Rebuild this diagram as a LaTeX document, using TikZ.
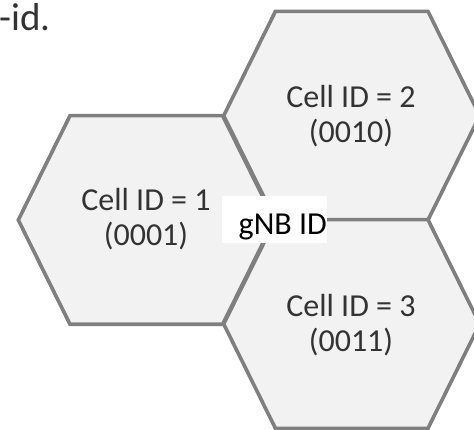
\documentclass[tikz,border=0pt]{standalone}
\usepackage{fontspec}
\setmainfont{Carlito}
\definecolor{hexfill}{HTML}{F2F2F2}
\definecolor{hexline}{HTML}{7F7F7F}
\definecolor{celltext}{HTML}{333333}
\tikzset{
  hexstyle/.style={draw=hexline, fill=hexfill, line width=3.6pt, line join=miter},
  hexpic/.pic={\path[hexstyle] (-128,0) -- (-76.3,-104.3) -- (76.3,-104.3) -- (128,0) -- (76.3,104.3) -- (-76.3,104.3) -- cycle;},
  celllabel/.style={align=center, text=celltext, font=\fontsize{32}{35}\selectfont, inner sep=0pt},
  gnbbox/.style={fill=white, draw=none, minimum width=105pt, minimum height=47pt, inner sep=0pt},
  gnbtext/.style={font=\fontsize{32}{38}\selectfont, text=black, inner sep=0pt},
  toptext/.style={font=\fontsize{39}{44}\selectfont, text=celltext, inner sep=0pt}
}
\begin{document}
\begin{tikzpicture}[x=1pt,y=-1pt]
\useasboundingbox (0,0) rectangle (474,430);
\clip (0,0) rectangle (474,430);
\fill[white] (0,0) rectangle (474,430);
\coordinate (c1) at (146.3,220);
\coordinate (c2) at (351.7,115.7);
\coordinate (c3) at (351.7,324);
\pic at (c1) {hexpic};
\pic at (c2) {hexpic};
\pic at (c3) {hexpic};
\node[celllabel] (l1) at (146,219) {Cell ID = 1\\(0001)};
\node[celllabel] (l2) at (351,116) {Cell ID = 2\\(0010)};
\node[celllabel] (l3) at (351,325) {Cell ID = 3\\(0011)};
\node[gnbbox] (gb) at (274.2,219.7) {};
\node[gnbtext, anchor=base east] (gnb) at (327,235) {gNB ID};
\node[toptext, anchor=base east] (top) at (51,30.7) {-id.};
\end{tikzpicture}
\end{document}
